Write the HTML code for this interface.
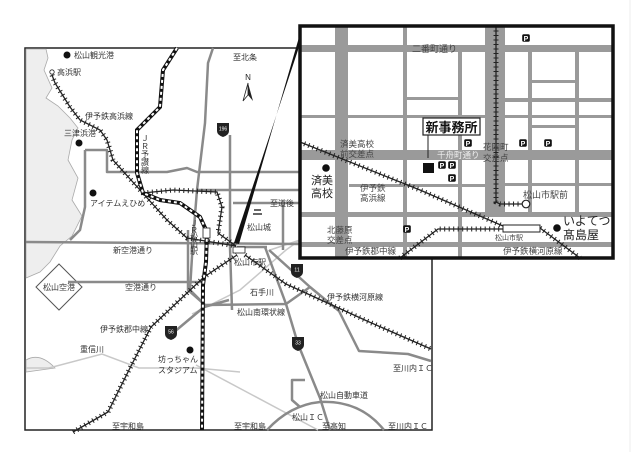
<!DOCTYPE html>
<html><head><meta charset="utf-8"><style>
html,body{margin:0;padding:0;background:#fff;}
svg{display:block;font-family:"Liberation Sans","Noto Sans CJK JP",sans-serif;}
.r{fill:none;stroke:#8a8a8a;stroke-width:2.5;stroke-linejoin:round;}
.lr{fill:none;stroke:#c8c8c8;stroke-width:1.5;}
.rail{fill:none;stroke:#222;stroke-width:1.3;}
.tick{fill:none;stroke:#222;stroke-width:5;stroke-dasharray:1 3.5;}
.t{font-size:8px;fill:#333;}
.ti{font-size:9px;fill:#444;}
.g{fill:#9a9a9a;}
</style></head><body>
<svg width="640" height="452" viewBox="0 0 640 452">
<defs>
<g id="P"><rect x="-3.8" y="-3.8" width="7.6" height="7.6" rx="1.5" fill="#111"/><text x="0" y="2.8" font-size="7" font-weight="bold" fill="#fff" text-anchor="middle">P</text></g>
<g id="shield"><path d="M-6,-6 L6,-6 L6,2 Q6,6 0,8 Q-6,6 -6,2Z" fill="#222"/></g>
</defs>
<rect width="640" height="452" fill="#fff"/>
<!-- main frame -->
<rect x="25" y="48" width="407" height="382" fill="#fff" stroke="#222" stroke-width="1.5"/>
<!-- sea -->
<path d="M26,49 L46,49 L48,58 L44,70 L52,88 L46,98 L58,106 L70,118 L78,128 L72,140 L68,160 L78,178 L72,200 L82,216 L72,236 L60,246 L50,262 L40,272 L26,278Z" fill="#eeeeee" stroke="#aaa" stroke-width="0.8"/>
<path d="M26,360 Q40,352 55,368 L26,372Z" fill="#eee" stroke="#aaa" stroke-width="0.8"/>
<!-- airport -->
<polygon points="59,264 82,287 59,310 36,287" fill="#fff" stroke="#555" stroke-width="1"/>
<text x="59" y="290" class="t" text-anchor="middle">松山空港</text>
<!-- light roads / river -->
<path class="lr" d="M26,368 L49,368 L102,354 L139,368 L196,368 L240,372"/>
<path class="lr" d="M196,365 L318,430"/>
<path class="lr" d="M192,314 L240,290 L286,250 L300,240"/>
<path class="lr" d="M270,250 L330,230 L360,218"/>
<!-- roads -->
<path class="r" d="M213,48 L208,63 L205,123 L197,190 L193,240 L190,290 L205,305"/>
<path class="r" d="M230,135 L230,247 L232,310"/>
<path class="r" d="M85,150 L107,150 L107,172 L167,172 L187,168 L197,172 L300,172"/>
<path class="r" d="M197,190 L300,190"/>
<path class="r" d="M233,203 L300,203"/>
<path class="r" d="M85,150 L85,207 L80,230 L70,240"/>
<path class="r" d="M26,242 L300,244"/>
<path class="r" d="M68,282 L205,282"/>
<path class="r" d="M188,230 L188,290 L205,305 L286,304 L310,287"/>
<path class="r" d="M167,338 L204,307 L229,300"/>
<path class="r" d="M265,247 L286,304 L298,344 L320,398 L330,430"/>
<path class="r" d="M269,250 L310,287 L339,311 L359,351 L408,354 L431,361"/>
<path class="r" d="M283,203 L283,250"/>
<path class="r" d="M267,430 Q290,405 320,402 Q360,400 384,430"/>
<path class="r" d="M300,407 L292,400 L292,380 L305,380"/>
<path class="r" d="M237,247 L267,247"/>
<!-- railways -->
<path class="rail" d="M52,75 L55,83 L70,107 L80,120 L100,130 L107,140 L113,160 L140,190 L167,220 L187,238 L236,246"/>
<path class="tick" d="M52,75 L55,83 L70,107 L80,120 L100,130 L107,140 L113,160 L140,190 L167,220 L187,238 L236,246"/>
<path class="rail" d="M143,193 L173,190 L217,192 L222,207 L218,233 L236,246"/>
<path class="tick" d="M143,193 L173,190 L217,192 L222,207 L218,233 L236,246"/>
<path class="rail" d="M73,432 L108,412 L130,368 L151,327 L204,277 L237,255"/>
<path class="tick" d="M73,432 L108,412 L130,368 L151,327 L204,277 L237,255"/>
<path class="rail" d="M245,255 L286,284 L367,321 L431,349"/>
<path class="tick" d="M245,255 L286,284 L367,321 L431,349"/>
<!-- JR -->
<path d="M177,48 L163,70 L160,107 L137,130 L137,173 L143,193 L160,200 L180,203 L200,217 L207,232 L206,262 L203,285 L202,430" fill="none" stroke="#111" stroke-width="4"/>
<path d="M177,48 L163,70 L160,107 L137,130 L137,173 L143,193 L160,200 L180,203 L200,217 L207,232 L206,262 L203,285 L202,430" fill="none" stroke="#fff" stroke-width="2" stroke-dasharray="3 3"/>
<rect x="203" y="228" width="7" height="10" fill="#fff" stroke="#222" stroke-width="0.8"/>
<rect x="233" y="247" width="12" height="6" fill="#fff" stroke="#222" stroke-width="0.8"/>
<!-- shields -->
<g transform="translate(223,129)"><use href="#shield"/><text y="1.5" font-size="5" fill="#fff" text-anchor="middle">196</text></g>
<g transform="translate(297,270)"><use href="#shield"/><text y="1.5" font-size="5" fill="#fff" text-anchor="middle">11</text></g>
<g transform="translate(298,343)"><use href="#shield"/><text y="1.5" font-size="5" fill="#fff" text-anchor="middle">33</text></g>
<g transform="translate(171,332)"><use href="#shield"/><text y="1.5" font-size="5" fill="#fff" text-anchor="middle">56</text></g>
<!-- N arrow -->
<text x="248" y="80" font-size="8" text-anchor="middle" fill="#222">N</text>
<path d="M248,83 L243,101 L248,95Z" fill="#fff" stroke="#222" stroke-width="0.8"/><path d="M248,83 L253,101 L248,95Z" fill="#222"/>
<!-- castle -->
<rect x="254" y="209" width="7" height="2" fill="#666"/><rect x="253" y="213" width="9" height="2" fill="#666"/>
<!-- dots -->
<circle cx="67" cy="55" r="3.5" fill="#111"/>
<circle cx="52" cy="72" r="2.2" fill="#fff" stroke="#222" stroke-width="0.8"/>
<circle cx="79" cy="143" r="3.5" fill="#111"/>
<circle cx="93" cy="193" r="3.5" fill="#111"/>
<circle cx="190" cy="350" r="3.5" fill="#111"/>
<!-- labels -->
<text x="74" y="58" class="t">松山観光港</text>
<text x="57" y="75" class="t">高浜駅</text>
<text x="85" y="119" class="t">伊予鉄高浜線</text>
<text x="64" y="136" class="t">三津浜港</text>
<text x="90" y="206" class="t">アイテムえひめ</text>
<text x="233" y="60" class="t">至北条</text>
<text x="113" y="253" class="t">新空港通り</text>
<text x="270" y="206" class="t">至道後</text>
<text x="247" y="230" class="t">松山城</text>
<text x="234" y="265" class="t" font-size="7">松山市駅</text>
<g class="t" font-size="7.5"><text x="141" y="141">Ｊ</text><text x="141" y="149">Ｒ</text><text x="141" y="157">予</text><text x="141" y="165">讃</text><text x="141" y="173">線</text></g>
<g class="t" font-size="7"><text x="190" y="226">Ｊ</text><text x="190" y="233">Ｒ</text><text x="190" y="240">松</text><text x="190" y="247">山</text><text x="190" y="254">駅</text></g>
<text x="125" y="290" class="t">空港通り</text>
<text x="250" y="295" class="t">石手川</text>
<text x="237" y="315" class="t">松山南環状線</text>
<text x="327" y="300" class="t">伊予鉄横河原線</text>
<text x="100" y="332" class="t">伊予鉄郡中線</text>
<text x="80" y="352" class="t">重信川</text>
<text x="158" y="362" class="t">坊っちゃん</text>
<text x="158" y="373" class="t">スタジアム</text>
<text x="393" y="371" class="t">至川内ＩＣ</text>
<text x="320" y="398" class="t">松山自動車道</text>
<text x="292" y="420" class="t">松山ＩＣ</text>
<text x="112" y="429" class="t">至宇和島</text>
<text x="234" y="429" class="t">至宇和島</text>
<text x="322" y="429" class="t">至高知</text>
<text x="388" y="429" class="t">至川内ＩＣ</text>
<!-- wedge -->
<polygon points="234,243 239,244 302,27 298,50" fill="#111"/>
<!-- inset -->
<rect x="300" y="26" width="313" height="232" fill="#fff"/>
<g class="g">
<rect x="335" y="26" width="13" height="232"/>
<rect x="403" y="26" width="4" height="232"/>
<rect x="458" y="48" width="4" height="210"/>
<rect x="485" y="26" width="20" height="190"/>
<rect x="528" y="48" width="4" height="168"/>
<rect x="575" y="48" width="4" height="168"/>
<rect x="300" y="45" width="313" height="7"/>
<rect x="300" y="150" width="313" height="10"/>
<rect x="300" y="212" width="313" height="5"/>
<rect x="300" y="242" width="313" height="5"/>
<rect x="485" y="98" width="128" height="4"/>
<rect x="407" y="97" width="51" height="3"/>
<rect x="300" y="115" width="185" height="3"/>
<rect x="505" y="115" width="108" height="3"/>
<rect x="505" y="183" width="108" height="3"/>
<rect x="349" y="184" width="136" height="3"/>
<rect x="528" y="80" width="47" height="3"/>
<rect x="528" y="125" width="47" height="3"/>
</g>
<!-- inset rails -->
<path class="rail" d="M496,26 L496,202 L500,204 L522,204"/>
<path class="tick" d="M496,26 L496,202 L500,204 L522,204"/>
<circle cx="526" cy="204" r="3.8" fill="#fff" stroke="#222" stroke-width="1.2"/>
<path class="rail" d="M300,142 L420,190 L503,226 M540,228 L580,258"/>
<path class="tick" d="M300,142 L420,190 L503,226 M540,228 L580,258"/>
<path class="rail" d="M400,258 L438,229 L503,229"/>
<path class="tick" d="M400,258 L438,229 L503,229"/>
<rect x="503" y="225" width="37" height="7" fill="#fff" stroke="#222" stroke-width="1"/>
<!-- P icons -->
<use href="#P" x="526" y="38"/><use href="#P" x="468" y="143"/><use href="#P" x="523" y="143"/><use href="#P" x="548" y="143"/>
<use href="#P" x="442" y="165"/><use href="#P" x="452" y="165"/><use href="#P" x="452" y="178"/><use href="#P" x="407" y="229"/>
<!-- office -->
<rect x="423" y="163" width="11" height="10" fill="#111"/>
<line x1="428" y1="135" x2="428" y2="158" stroke="#222" stroke-width="1"/>
<rect x="423" y="118" width="57" height="17" fill="#fff" stroke="#222" stroke-width="1.2"/>
<text x="451.5" y="132" font-size="13" font-weight="bold" text-anchor="middle" fill="#111">新事務所</text>
<circle cx="326" cy="168" r="3.8" fill="#111"/>
<circle cx="557" cy="228" r="3.8" fill="#111"/>
<g class="ti">
<text x="412" y="52" font-size="9">二番町通り</text>
<text x="340" y="147" font-size="8.5">済美高校</text>
<text x="340" y="157" font-size="8.5">前交差点</text>
<text x="437" y="158" font-size="8.5" fill="#eee">千舟町通り</text>
<text x="483" y="150" font-size="8.5">花園町</text>
<text x="483" y="161" font-size="8.5">交差点</text>
<text x="360" y="191" font-size="8.5">伊予鉄</text>
<text x="360" y="201" font-size="8.5">高浜線</text>
<text x="523" y="198" font-size="9">松山市駅前</text>
<text x="327" y="233" font-size="8.5">北藤原</text>
<text x="327" y="243" font-size="8.5">交差点</text>
<text x="345" y="254" font-size="8.5">伊予鉄郡中線</text>
<text x="503" y="254" font-size="8.5">伊予鉄横河原線</text>
<text x="495" y="240" font-size="7">松山市駅</text>
</g>
<text x="311" y="184" font-size="11" fill="#222">済美</text>
<text x="311" y="197" font-size="11" fill="#222">高校</text>
<text x="563" y="225" font-size="12" fill="#222">いよてつ</text>
<text x="563" y="239" font-size="12" fill="#222">髙島屋</text>
<rect x="300" y="26" width="313" height="232" fill="none" stroke="#111" stroke-width="3.5"/>
<line x1="630" y1="0" x2="630" y2="452" stroke="#eee" stroke-width="1"/>
</svg>
</body></html>
